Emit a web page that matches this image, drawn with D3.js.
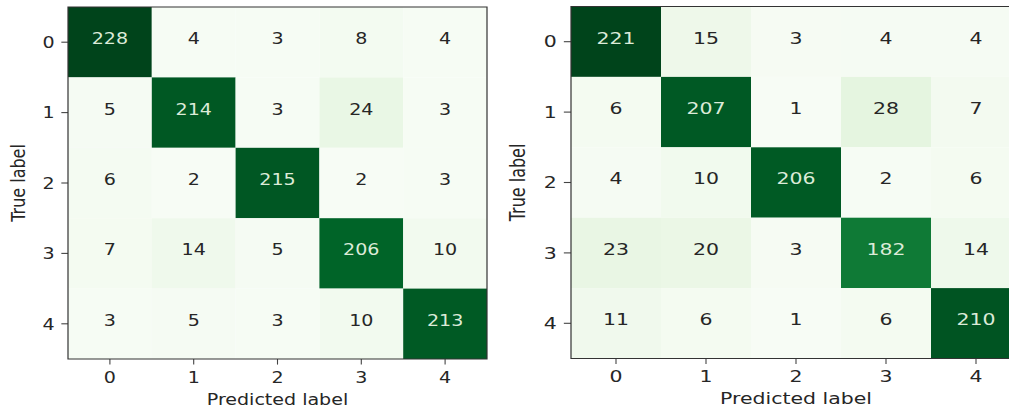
<!DOCTYPE html>
<html>
<head>
<meta charset="utf-8">
<script src="https://cdn.jsdelivr.net/npm/d3@7"></script>
<style>
  html, body { margin: 0; padding: 0; background: #fff; }
  svg { display: block; }
  text { font-family: "DejaVu Sans", sans-serif; }
</style>
</head>
<body>
<svg id="chart" width="1009" height="411"></svg>
<script>
// Class labels shared by both confusion matrices
const classLabels = ["0", "1", "2", "3", "4"];

// Confusion matrix of the first model (rows = true label, columns = predicted label)
const matrixA = [
  [228, 4, 3, 8, 4],
  [5, 214, 3, 24, 3],
  [6, 2, 215, 2, 3],
  [7, 14, 5, 206, 10],
  [3, 5, 3, 10, 213]
];

// Confusion matrix of the second model
const matrixB = [
  [221, 15, 3, 4, 4],
  [6, 207, 1, 28, 7],
  [4, 10, 206, 2, 6],
  [23, 20, 3, 182, 14],
  [11, 6, 1, 6, 210]
];

const xTitle = "Predicted label";
const yTitle = "True label";

// ColorBrewer "Greens" 9-class ramp, spread evenly between vmin and vmax
const greens = ["#f7fcf5", "#e5f5e0", "#c7e9c0", "#a1d99b", "#74c476",
                "#41ab5d", "#238b45", "#006d2c", "#00441b"];

const svg = d3.select("#chart");
svg.append("rect").attr("width", 1009).attr("height", 411).attr("fill", "#fff");

const fontSize = 16;
const tickLen = 5.6;
const tickPad = 5.6;

function drawMatrix(matrix, left, top, width, height) {
  const side = height;            // cells are laid out on a square grid
  const sx = width / height;      // then stretched horizontally
  const g = svg.append("g")
    .attr("transform", `translate(${left},${top}) scale(${sx},1)`);

  const x = d3.scaleBand().domain(classLabels).range([0, side]);
  const y = d3.scaleBand().domain(classLabels).range([0, side]);

  const flat = matrix.flat();
  const vmin = d3.min(flat), vmax = d3.max(flat);
  const color = d3.scaleLinear()
    .domain(greens.map((_, i) => vmin + (vmax - vmin) * i / (greens.length - 1)))
    .range(greens)
    .interpolate(d3.interpolateRgb);
  const thresh = (vmax + vmin) / 2;

  const cells = [];
  matrix.forEach((row, i) => row.forEach((v, j) => cells.push({ t: classLabels[i], p: classLabels[j], v })));

  g.selectAll("rect.cell").data(cells).join("rect")
    .attr("class", "cell")
    .attr("x", d => x(d.p))
    .attr("y", d => y(d.t))
    .attr("width", x.bandwidth())
    .attr("height", y.bandwidth())
    .attr("fill", d => color(d.v));

  g.selectAll("text.val").data(cells).join("text")
    .attr("class", "val")
    .attr("x", d => x(d.p) + x.bandwidth() / 2)
    .attr("y", d => y(d.t) + y.bandwidth() / 2 + 2)
    .attr("text-anchor", "middle")
    .attr("font-size", fontSize)
    .attr("fill", d => d.v > thresh ? "#dcebd8" : "#262626")
    .text(d => d.v);

  // Axes
  const xAxis = g.append("g")
    .attr("transform", `translate(0,${side})`)
    .call(d3.axisBottom(x).tickSize(tickLen).tickPadding(tickPad));
  const yAxis = g.append("g")
    .call(d3.axisLeft(y).tickSize(tickLen).tickPadding(tickPad));
  [xAxis, yAxis].forEach(a => {
    a.select(".domain").remove();
    a.selectAll(".tick line").attr("stroke", "#444")
      .attr("stroke-width", 1.1).attr("vector-effect", "non-scaling-stroke");
    a.selectAll(".tick text").attr("font-size", fontSize).attr("fill", "#262626")
      .attr("font-family", "DejaVu Sans, sans-serif");
  });
  xAxis.selectAll(".tick text").attr("dy", "0.78em");
  yAxis.selectAll(".tick text").attr("dy", "0.36em");

  // Frame
  g.append("rect")
    .attr("width", side).attr("height", side)
    .attr("fill", "none").attr("stroke", "#333").attr("stroke-width", 1.2)
    .attr("vector-effect", "non-scaling-stroke");

  // Axis titles
  g.append("text")
    .attr("x", side / 2).attr("y", side + 46)
    .attr("text-anchor", "middle").attr("font-size", fontSize).attr("fill", "#262626")
    .text(xTitle);
  g.append("text")
    .attr("transform", `translate(-36,${side / 2}) rotate(-90)`)
    .attr("text-anchor", "middle").attr("font-size", fontSize).attr("fill", "#262626")
    .text(yTitle);
}

drawMatrix(matrixA, 68, 7, 419, 352);
drawMatrix(matrixB, 571, 6.5, 450, 352);
</script>
</body>
</html>
